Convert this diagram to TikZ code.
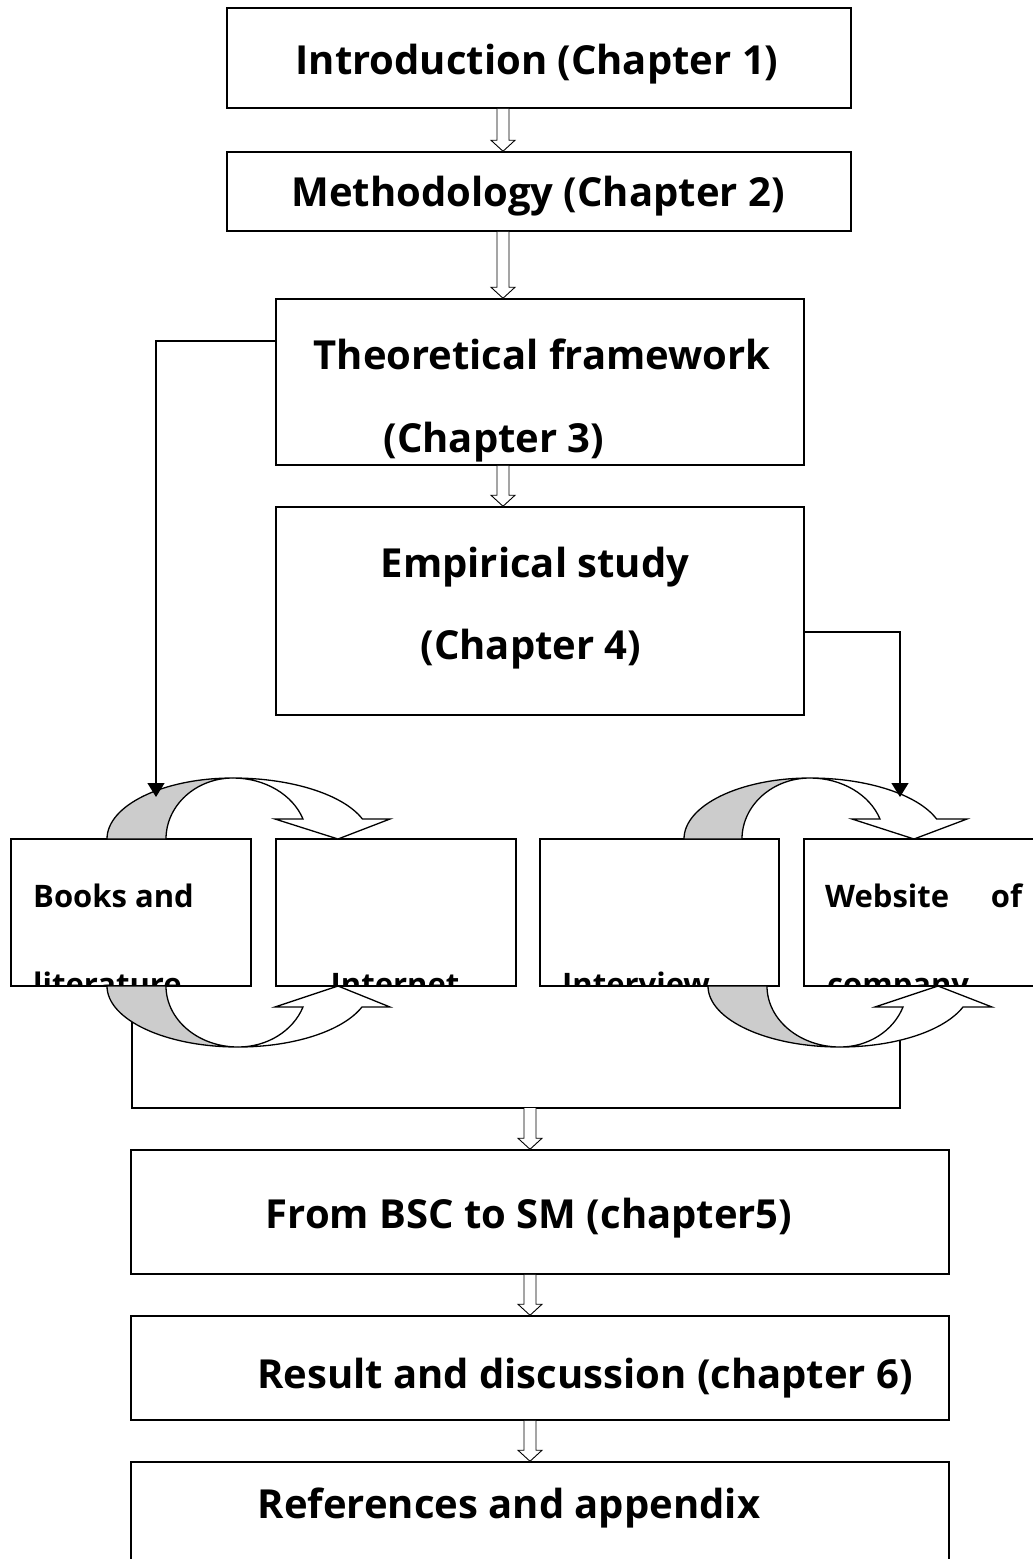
\documentclass[tikz,border=0pt]{standalone}
\usepackage{fontspec}
\setmainfont{Open Sans}
\usetikzlibrary{calc,arrows.meta}
\definecolor{bandgray}{HTML}{CCCCCC}
\tikzset{
  box/.style={draw, line width=1.5pt, rectangle, inner sep=0pt, fill=white},
  big/.style={font=\bfseries\fontsize{40}{48}\selectfont, inner sep=0pt, anchor=base},
  small/.style={font=\bfseries\fontsize{31}{37}\selectfont, inner sep=0pt, anchor=base west},
  conn/.style={line width=1.3pt},
  hollow/.style={line width=0.9pt, fill=white},
  band/.style={line width=1.3pt, draw=black},
  tip/.style={-{Triangle[length=14pt,width=17pt]}}
}
\newcommand\hollowarrow[3]{%
  \draw[hollow] let \p1=(#2), \p2=(#3) in
    (#1pt-6pt,\y1) -- (#1pt-6pt,\y2+11pt) -- (#1pt-12pt,\y2+11pt) -- (#1pt,\y2)
    -- (#1pt+12pt,\y2+11pt) -- (#1pt+6pt,\y2+11pt) -- (#1pt+6pt,\y1);
}
\begin{document}
\begin{tikzpicture}[x=1pt,y=-1pt]
\useasboundingbox (0,0) rectangle (1033,1559);
\clip (0,0) rectangle (1033,1559);
\fill[white] (0,0) rectangle (1033,1559);

% main boxes
\node[box, minimum width=624pt, minimum height=100pt] (intro) at (539,58) {};
\node[box, minimum width=624pt, minimum height=79pt] (method) at (539,191.5) {};
\node[box, minimum width=528pt, minimum height=166pt] (theory) at (540,382) {};
\node[box, minimum width=528pt, minimum height=208pt] (empir) at (540,611) {};
\node[box, minimum width=818pt, minimum height=124pt] (bsc) at (540,1212) {};
\node[box, minimum width=818pt, minimum height=104pt] (result) at (540,1368) {};
\node[box, minimum width=818pt, minimum height=118pt] (refs) at (540,1521) {};

% small boxes
\node[box, minimum width=240pt, minimum height=147pt] (books) at (131,912.5) {};
\node[box, minimum width=240pt, minimum height=147pt] (internet) at (396,912.5) {};
\node[box, minimum width=239pt, minimum height=147pt] (interview) at (659.5,912.5) {};
\node[box, minimum width=236pt, minimum height=147pt] (website) at (922,912.5) {};

% texts in main boxes
\node[big] (tIntro) at (537,74) {Introduction (Chapter 1)};
\node[big] (tMethod) at (538,206) {Methodology (Chapter 2)};
\node[big] (tTheory1) at (542,369) {Theoretical framework};
\node[big] (tTheory2) at (494,452) {(Chapter 3)};
\node[big] (tEmpir1) at (535,577) {Empirical study};
\node[big] (tEmpir2) at (531,659) {(Chapter 4)};
\node[big] (tBsc) at (529,1228) {From BSC to SM (chapter5)};
\node[big] (tResult) at (585,1388) {Result and discussion (chapter 6)};
\node[big] (tRefs) at (509,1518) {References and appendix};

% texts in small boxes
\node[small] (tBooks) at (33,907) {Books and};
\node[small] (tWeb) at (825,907) {\makebox[197pt][s]{Website of}};
\begin{scope}
  \clip ([yshift=0.8pt]books.south west) rectangle (books.north east);
  \node[small] (tLit) at (33,995) {literature};
\end{scope}
\begin{scope}
  \clip ([yshift=0.8pt]internet.south west) rectangle (internet.north east);
  \node[small, anchor=base] (tInt) at (395,995) {Internet};
\end{scope}
\begin{scope}
  \clip ([yshift=0.8pt]interview.south west) rectangle (interview.north east);
  \node[small] (tInv) at (562,995) {Interview};
\end{scope}
\begin{scope}
  \clip ([yshift=0.8pt]website.south west) rectangle (website.north east);
  \node[small] (tComp) at (827,995) {company};
\end{scope}

% hollow arrows between main boxes
\hollowarrow{503}{intro.south}{method.north}
\hollowarrow{503}{method.south}{theory.north}
\hollowarrow{503}{theory.south}{empir.north}
\hollowarrow{530}{bsc.south}{result.north}
\hollowarrow{530}{result.south}{refs.north}

% bottom collecting connector (behind lower curved arrows)
\coordinate (blout) at (132,1022);
\coordinate (brout) at (900,1040);
\coordinate (join) at (530,1108);
\draw[conn, line width=1.6pt] (blout) |- (join) -| (brout);
\hollowarrow{530}{join}{bsc.north}

% curved arrows: Books -> Internet (top)
\filldraw[band, fill=bandgray] (107,839) arc[start angle=180, end angle=270, x radius=126, y radius=61]
  arc[start angle=270, end angle=180, x radius=67, y radius=61] -- cycle;
\filldraw[band, fill=white] (233,778) arc[start angle=270, end angle=340.86, x radius=137, y radius=61]
  -- (390,819) -- (338,839) -- (275,819) -- (303,819)
  arc[start angle=340.86, end angle=270, x radius=74, y radius=61] -- cycle;
% Books -> Internet (bottom)
\filldraw[band, fill=bandgray] (107,986) arc[start angle=180, end angle=90, x radius=131, y radius=61]
  arc[start angle=90, end angle=180, x radius=72, y radius=61] -- cycle;
\filldraw[band, fill=white] (238,1047) arc[start angle=90, end angle=20.14, x radius=132, y radius=61]
  -- (390,1007) -- (338,986) -- (275,1007) -- (303,1007)
  arc[start angle=20.14, end angle=90, x radius=69, y radius=61] -- cycle;
% Interview -> Website (top)
\filldraw[band, fill=bandgray] (684,839) arc[start angle=180, end angle=270, x radius=126, y radius=61]
  arc[start angle=270, end angle=180, x radius=68, y radius=61] -- cycle;
\filldraw[band, fill=white] (810,778) arc[start angle=270, end angle=340.86, x radius=134, y radius=61]
  -- (967,819) -- (914,839) -- (852,819) -- (880,819)
  arc[start angle=340.86, end angle=270, x radius=74, y radius=61] -- cycle;
% Interview -> Website (bottom)
\filldraw[band, fill=bandgray] (708,986) arc[start angle=180, end angle=90, x radius=132, y radius=61]
  arc[start angle=90, end angle=180, x radius=73, y radius=61] -- cycle;
\filldraw[band, fill=white] (840,1047) arc[start angle=90, end angle=20.14, x radius=131, y radius=61]
  -- (992,1007) -- (938,986) -- (875,1007) -- (903,1007)
  arc[start angle=20.14, end angle=90, x radius=67, y radius=61] -- cycle;

% side connectors
\coordinate (tlin) at (156,797);
\coordinate (trin) at (900,797);
\draw[conn, tip] ([yshift=41pt]theory.west) -| (tlin);
\draw[conn, tip] ([yshift=-21pt]empir.east) -| (trin);
\end{tikzpicture}
\end{document}
